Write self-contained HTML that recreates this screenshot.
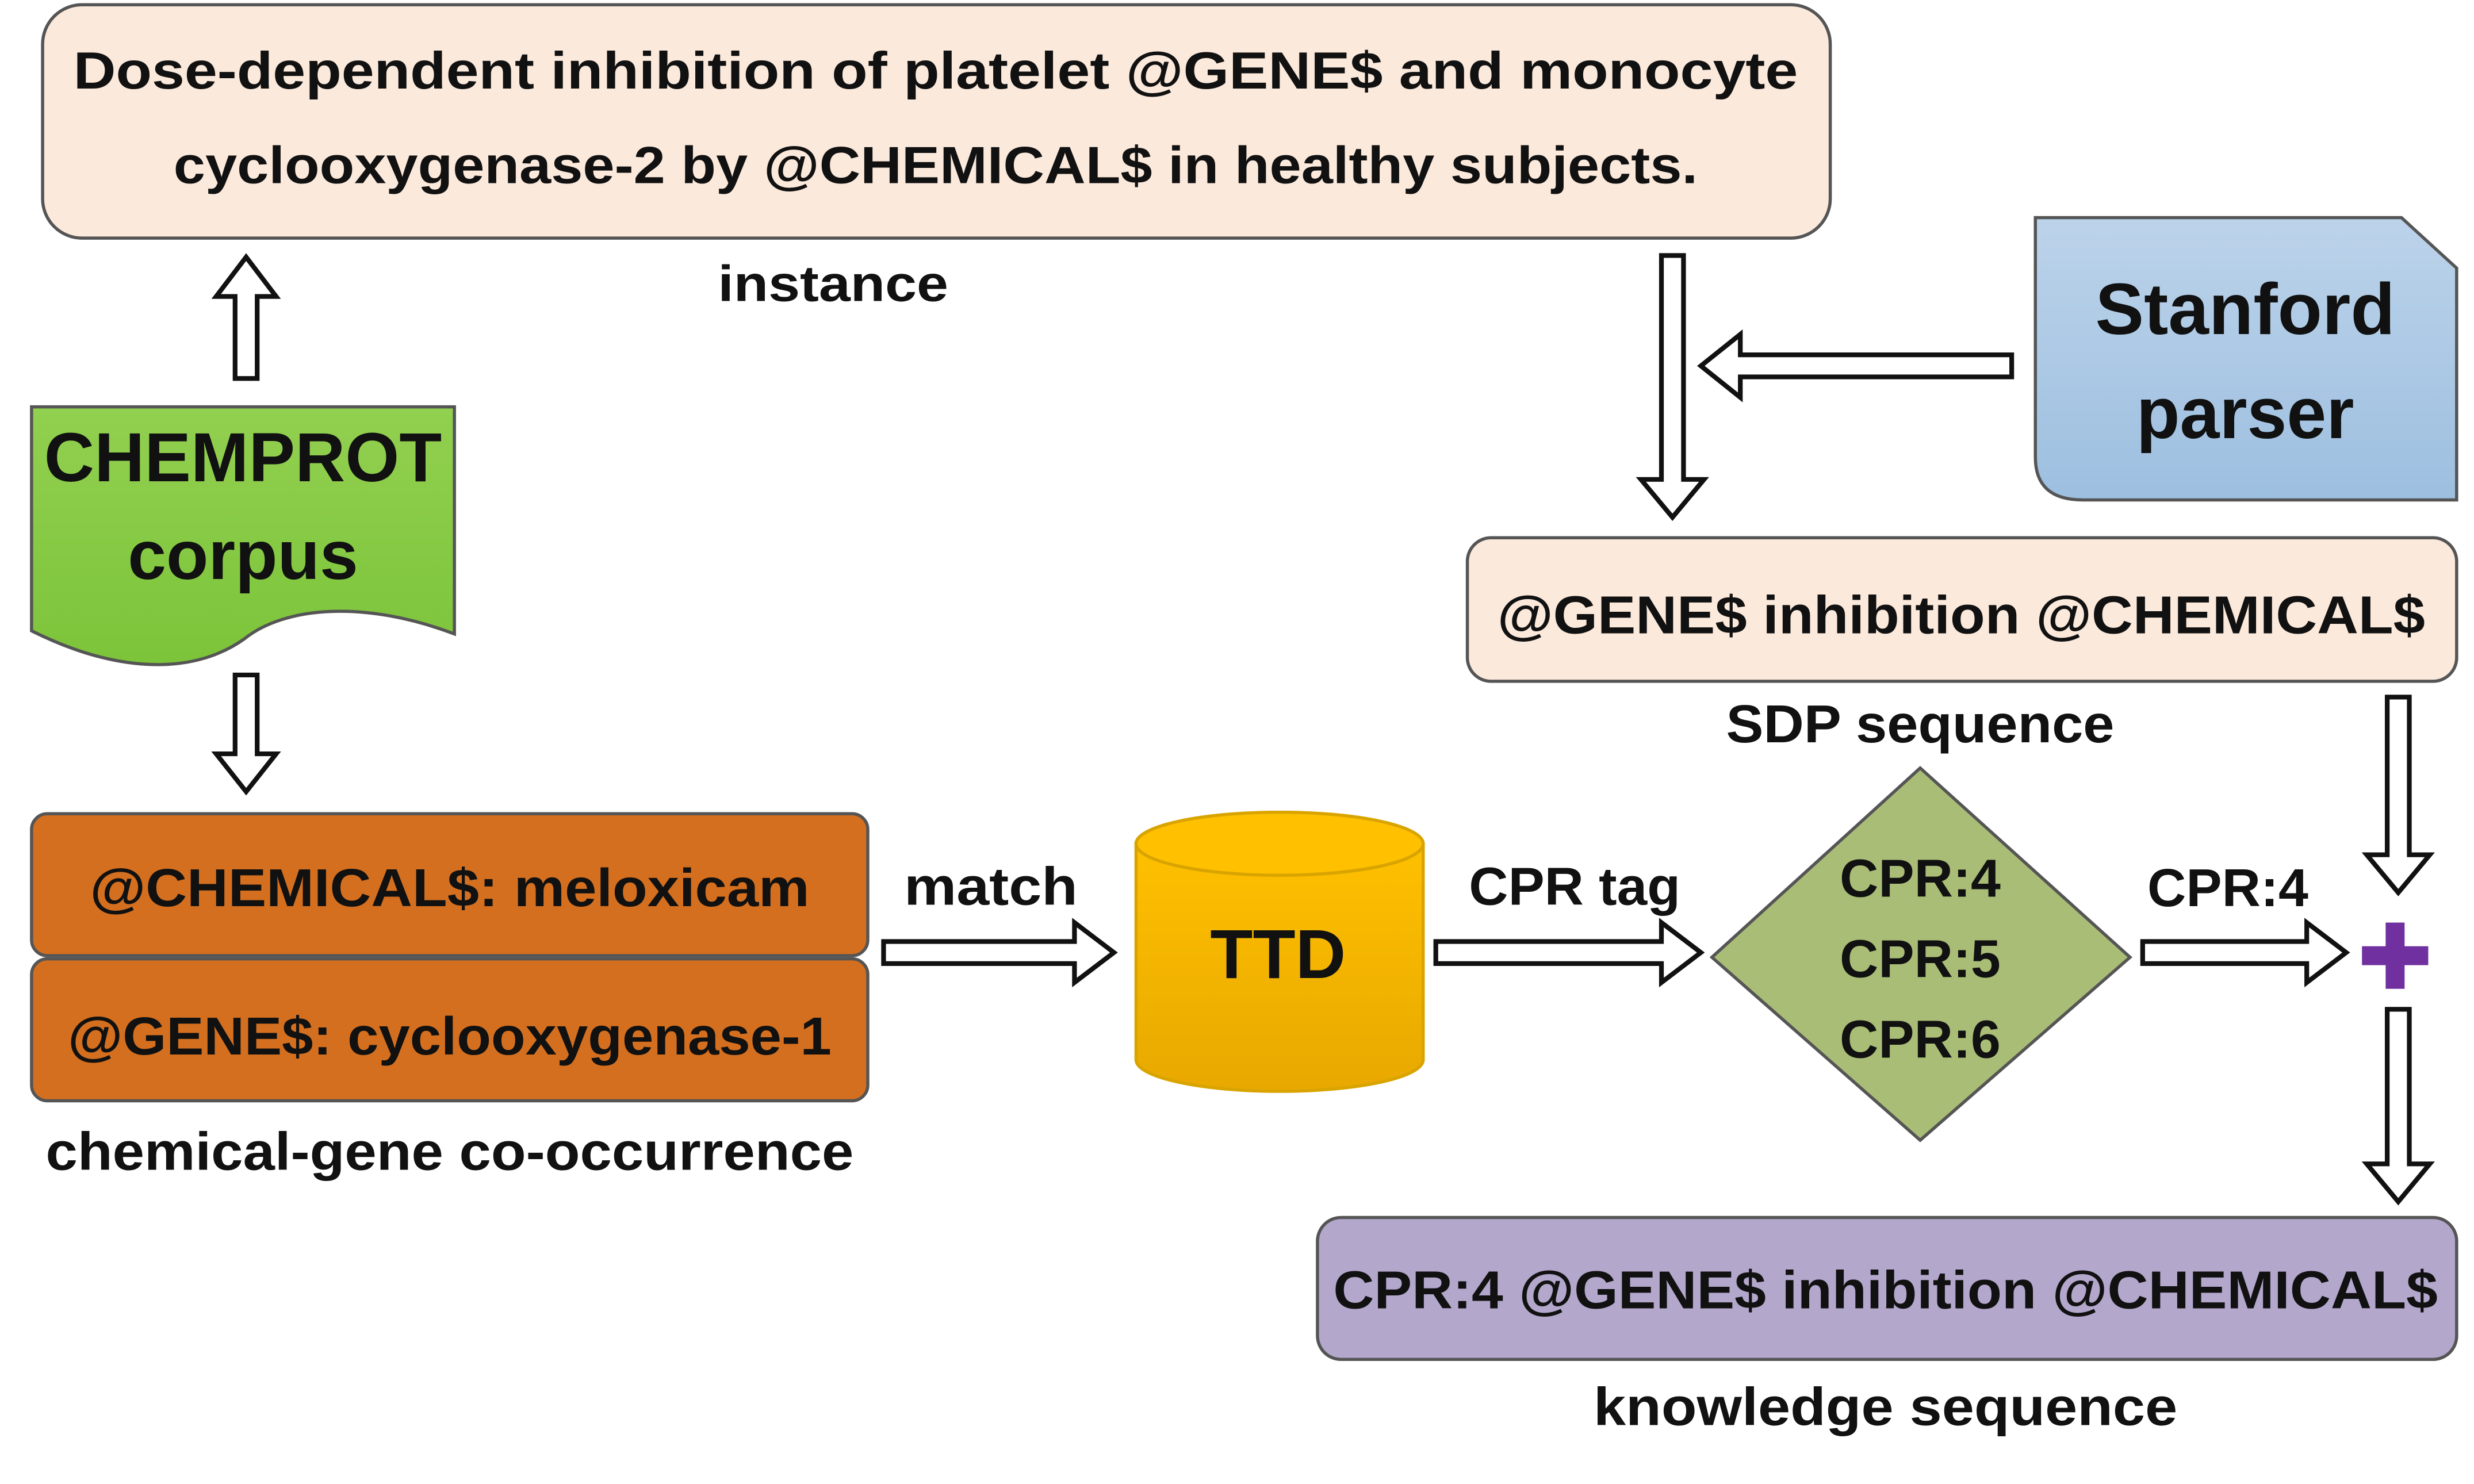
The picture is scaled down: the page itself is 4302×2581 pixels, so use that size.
<!DOCTYPE html>
<html><head><meta charset="utf-8"><style>html,body{margin:0;padding:0;background:#fff}svg{display:block}text{font-family:"Liberation Sans",sans-serif;font-weight:bold;fill:#111;text-anchor:middle;dominant-baseline:central}</style></head>
<body>
<svg width="4302" height="2581" viewBox="0 0 1568 941" preserveAspectRatio="none" xmlns="http://www.w3.org/2000/svg">
<defs>
<linearGradient id="g" x1="0" y1="0" x2="0" y2="1"><stop offset="0" stop-color="#92d050"/><stop offset="1" stop-color="#7cc43a"/></linearGradient>
<linearGradient id="y" x1="0" y1="0" x2="0" y2="1"><stop offset="0" stop-color="#ffc000"/><stop offset="1" stop-color="#e8a800"/></linearGradient>
<linearGradient id="b" x1="0" y1="0" x2="0" y2="1"><stop offset="0" stop-color="#bcd3ea"/><stop offset="1" stop-color="#9dbfe0"/></linearGradient>
</defs>
<g stroke="#555" stroke-width="2">
<rect x="27" y="3" width="1133" height="148" rx="25" fill="#fbe9dc"/>
<path d="M20 258 H288 V402 C230 380 180 385 155 405 C120 430 70 425 20 400 Z" fill="url(#g)"/>
<rect x="20" y="516" width="530" height="90" rx="10" fill="#d46f1f"/>
<rect x="20" y="608" width="530" height="90" rx="10" fill="#d46f1f"/>
<path d="M720 535 V672 A91 20 0 0 0 902 672 V535 Z" fill="url(#y)" stroke="#d9a400"/>
<ellipse cx="811" cy="535" rx="91" ry="20" fill="#ffc000" stroke="#d9a400"/>
<polygon points="1217,487 1350,607 1217,723 1085,607" fill="#a9bd76"/>
<path d="M1290 138 H1522 L1557 170 V317 H1320 Q1290 317 1290 290 Z" fill="url(#b)"/>
<rect x="930" y="341" width="627" height="91" rx="15" fill="#fbe9dc"/>
<rect x="835" y="772" width="722" height="90" rx="15" fill="#b3a7cc"/>
</g>
<g fill="#fff" stroke="#111" stroke-width="3" stroke-linejoin="miter">
<polygon points="149,240 149,188 137,188 156,163 175,188 163,188 163,240"/>
<polygon points="149,428 163,428 163,478 175,478 156,502 137,478 149,478"/>
<polygon points="560,597 681,597 681,585 706,604 681,623 681,611 560,611"/>
<polygon points="910,597 1053,597 1053,585 1078,604 1053,623 1053,611 910,611"/>
<polygon points="1358,597 1462,597 1462,585 1487,604 1462,623 1462,611 1358,611"/>
<polygon points="1053,162 1067,162 1067,304 1080,304 1060,328 1040,304 1053,304"/>
<polygon points="1275,225 1103,225 1103,212 1078,232 1103,252 1103,239 1275,239"/>
<polygon points="1513,442 1527,442 1527,542 1540,542 1520,566 1500,542 1513,542"/>
<polygon points="1513,640 1527,640 1527,738 1540,738 1520,762 1500,738 1513,738"/>
</g>
<g fill="#7030a0"><rect x="1512" y="585" width="12" height="42"/><rect x="1497" y="600" width="42" height="12"/></g>
<text x="593" y="45" font-size="33" textLength="1093" lengthAdjust="spacingAndGlyphs">Dose-dependent inhibition of platelet @GENE$ and monocyte</text>
<text x="593" y="105" font-size="33" textLength="966" lengthAdjust="spacingAndGlyphs">cyclooxygenase-2 by @CHEMICAL$ in healthy subjects.</text>
<text x="528" y="180" font-size="32" textLength="146" lengthAdjust="spacingAndGlyphs">instance</text>
<text x="154" y="290" font-size="44" textLength="252" lengthAdjust="spacingAndGlyphs">CHEMPROT</text>
<text x="154" y="352" font-size="44" textLength="146" lengthAdjust="spacingAndGlyphs">corpus</text>
<text x="285" y="563" font-size="34" textLength="456" lengthAdjust="spacingAndGlyphs">@CHEMICAL$: meloxicam</text>
<text x="285" y="657" font-size="34" textLength="484" lengthAdjust="spacingAndGlyphs">@GENE$: cyclooxygenase-1</text>
<text x="285" y="730" font-size="34" textLength="512" lengthAdjust="spacingAndGlyphs">chemical-gene co-occurrence</text>
<text x="628" y="562" font-size="34" textLength="110" lengthAdjust="spacingAndGlyphs">match</text>
<text x="810" y="605" font-size="44" textLength="86" lengthAdjust="spacingAndGlyphs">TTD</text>
<text x="998" y="562" font-size="34" textLength="134" lengthAdjust="spacingAndGlyphs">CPR tag</text>
<text x="1217" y="557" font-size="34" textLength="102" lengthAdjust="spacingAndGlyphs">CPR:4</text>
<text x="1217" y="608" font-size="34" textLength="102" lengthAdjust="spacingAndGlyphs">CPR:5</text>
<text x="1217" y="659" font-size="34" textLength="102" lengthAdjust="spacingAndGlyphs">CPR:6</text>
<text x="1412" y="563" font-size="34" textLength="102" lengthAdjust="spacingAndGlyphs">CPR:4</text>
<text x="1423" y="196" font-size="46" textLength="190" lengthAdjust="spacingAndGlyphs">Stanford</text>
<text x="1423" y="262" font-size="46" textLength="138" lengthAdjust="spacingAndGlyphs">parser</text>
<text x="1243" y="390" font-size="34" textLength="588" lengthAdjust="spacingAndGlyphs">@GENE$ inhibition @CHEMICAL$</text>
<text x="1217" y="459" font-size="34" textLength="246" lengthAdjust="spacingAndGlyphs">SDP sequence</text>
<text x="1195" y="818" font-size="34" textLength="700" lengthAdjust="spacingAndGlyphs">CPR:4 @GENE$ inhibition @CHEMICAL$</text>
<text x="1195" y="892" font-size="34" textLength="370" lengthAdjust="spacingAndGlyphs">knowledge sequence</text>
</svg>
</body></html>
